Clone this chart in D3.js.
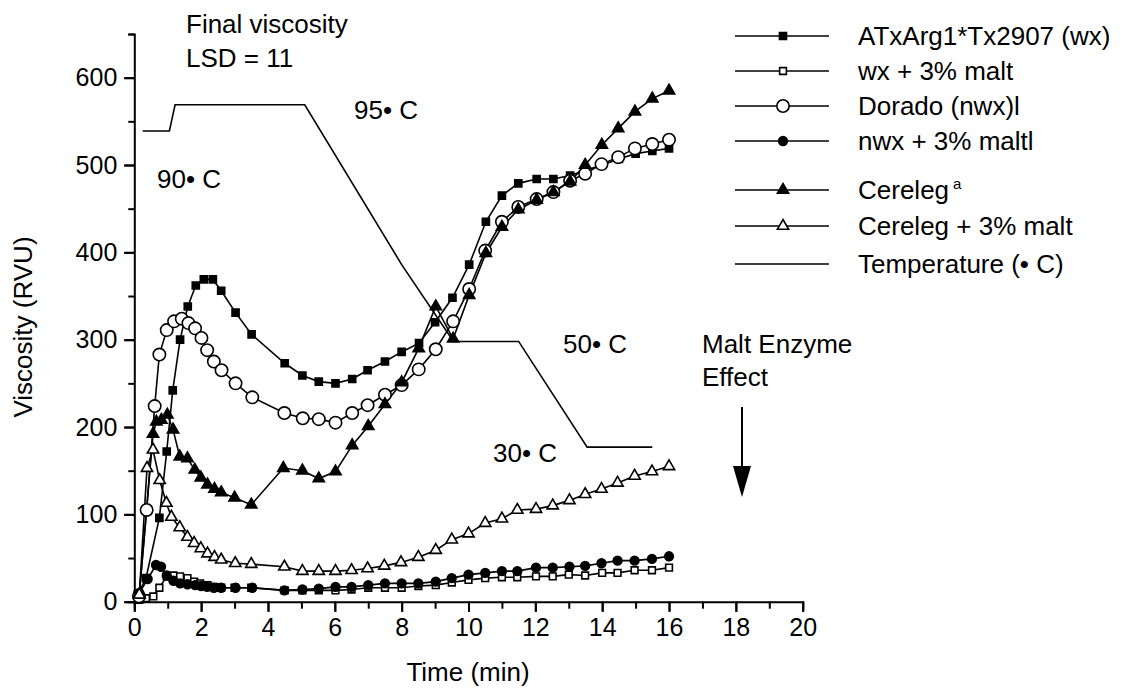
<!DOCTYPE html>
<html>
<head>
<meta charset="utf-8">
<script src="https://cdn.jsdelivr.net/npm/d3@7"></script>
<style>
  body { margin: 0; background: #fff; }
  text { font-family: "Liberation Sans", Arial, sans-serif; fill: #000; }
</style>
</head>
<body>
<svg width="1124" height="692"></svg>
<script>
// time (min), viscosity (RVU)
var wx = [[0.1,8],[0.35,27],[0.75,96],[0.97,172],[1.15,242],[1.37,300],[1.6,338],[1.84,362],[2.08,369],[2.35,369],
  [2.6,356],[3.03,331],[3.51,306],[4.5,273],[5.03,259],[5.52,252],[6.02,250],[6.52,255],[6.98,265],[7.5,275],
  [8.0,286],[8.52,296],[9.0,320],[9.52,348],[10.02,386],[10.52,435],[11.0,465],[11.49,479],[12.04,484],[12.54,484],
  [13.04,488],[13.5,494],[14.0,500],[14.5,507],[15.0,513],[15.5,516],[16.0,519]];
var wxMalt = [[0.15,2],[0.35,4],[0.57,6],[0.75,16],[0.97,29],[1.17,30],[1.37,29],[1.59,27],[1.79,23],[1.97,21],
  [2.19,19],[2.39,17],[2.6,16],[3.0,16],[3.5,16],[4.5,13],[5.03,13],[5.52,13],[6.02,13],[6.5,14],[7.0,16],
  [7.5,16],[8.0,16],[8.5,18],[9.02,19],[9.5,22],[10.0,25],[10.5,27],[11.0,28],[11.46,28],[12.02,29],[12.52,29],
  [13.0,31],[13.49,30],[14.0,33],[14.46,33],[14.97,36],[15.49,36],[16.0,39]];
var dorado = [[0.14,6],[0.37,105],[0.61,224],[0.75,283],[0.97,311],[1.19,321],[1.42,324],[1.62,319],[1.82,313],
  [2.01,302],[2.18,288],[2.38,275],[2.61,265],[3.03,250],[3.53,234],[4.49,216],[5.04,210],[5.52,209],[6.02,205],
  [6.52,216],[6.98,225],[7.5,237],[8.0,248],[8.51,266],[9.02,289],[9.54,321],[10.02,358],[10.5,402],[11.0,435],
  [11.49,452],[12.04,461],[12.54,469],[13.04,482],[13.49,490],[13.98,501],[14.48,509],[14.98,519],[15.5,524],[16.0,529]];
var nwxMalt = [[0.15,10],[0.4,26],[0.65,42],[0.8,40],[0.97,30],[1.17,24],[1.37,21],[1.59,20],[1.82,19],[2.0,18],
  [2.18,17],[2.38,16],[2.6,16],[3.03,16],[3.53,16],[4.49,13],[5.03,14],[5.52,15],[6.02,17],[6.5,17],[7.0,19],
  [7.5,21],[8.0,21],[8.5,21],[9.02,23],[9.5,27],[10.0,31],[10.5,33],[11.0,35],[11.46,35],[12.02,39],[12.52,39],
  [13.02,40],[13.49,41],[13.98,44],[14.46,47],[14.97,47],[15.49,49],[16.0,52]];
var cereleg = [[0.15,8],[0.56,192],[0.66,206],[0.81,208],[0.99,214],[1.16,197],[1.36,166],[1.59,164],[1.81,151],
  [1.99,142],[2.19,134],[2.4,129],[2.6,125],[3.0,119],[3.5,111],[4.46,153],[5.03,150],[5.52,141],[6.02,149],
  [6.52,179],[7.0,201],[7.5,226],[8.0,251],[8.51,290],[9.02,338],[9.54,301],[10.02,351],[10.52,399],[11.0,429],
  [11.49,449],[12.04,460],[12.54,469],[13.04,481],[13.49,500],[13.99,523],[14.48,542],[14.98,561],[15.5,576],[16.0,585]];
var cerelegMalt = [[0.15,8],[0.38,153],[0.56,174],[0.76,139],[0.96,113],[1.11,97],[1.36,85],[1.59,74],[1.79,67],
  [1.99,61],[2.19,55],[2.4,51],[2.6,48],[3.02,44],[3.5,43],[4.49,40],[5.03,35],[5.52,35],[6.02,35],[6.5,36],
  [6.98,38],[7.48,41],[7.98,45],[8.5,51],[9.02,59],[9.5,71],[10.0,78],[10.5,90],[11.0,95],[11.46,105],[12.02,106],
  [12.52,110],[13.02,116],[13.49,123],[13.98,129],[14.46,136],[14.97,144],[15.49,149],[16.0,155]];
// temperature profile, drawn in RVU units on the same axis
var temperature = [[0.25,539],[1.05,539],[1.22,569],[5.1,569],[8.0,386],[9.55,298],[11.5,298],[13.55,177],[15.5,177]];

var xTicks = [0,2,4,6,8,10,12,14,16,18,20];
var yTicks = [0,100,200,300,400,500,600];

var seriesNames = ["ATxArg1*Tx2907 (wx)", "wx + 3% malt", "Dorado (nwx)l", "nwx + 3% maltl", "Cereleg", "Cereleg + 3% malt", "Temperature (\u2022 C)"];

var svg = d3.select("svg");
var x = d3.scaleLinear().domain([0, 20]).range([134.3, 802.7]);
var y = d3.scaleLinear().domain([0, 650]).range([601.7, 34]);

// axes
var gx = svg.append("g").attr("transform", "translate(0,601.7)");
gx.call(d3.axisBottom(x).tickValues(d3.range(0, 21, 1)).tickSize(7).tickFormat(""));
gx.call(g => g.selectAll(".tick line").filter(d => d % 2 == 0).attr("y2", 10));
gx.append("g").call(d3.axisBottom(x).tickValues(xTicks).tickSize(10).tickPadding(7))
  .call(g => g.select(".domain").remove());
gx.selectAll("text").attr("font-size", 25).attr("font-family", "Liberation Sans, Arial, sans-serif").attr("fill", "#000");

var gy = svg.append("g").attr("transform", "translate(134.3,0)");
gy.call(d3.axisLeft(y).tickValues(d3.range(0, 651, 50)).tickSize(6).tickFormat(""));
gy.call(g => g.selectAll(".tick line").filter(d => d % 100 == 0).attr("x2", -10));
gy.append("g").call(d3.axisLeft(y).tickValues(yTicks).tickSize(10).tickPadding(7))
  .call(g => g.select(".domain").remove());
gy.selectAll("text").attr("font-size", 25).attr("font-family", "Liberation Sans, Arial, sans-serif").attr("fill", "#000");
svg.selectAll(".domain, .tick line").attr("stroke", "#000").attr("stroke-width", 2);

svg.append("text").attr("transform", "translate(32,327) rotate(-90)").attr("text-anchor", "middle")
  .attr("font-size", 26).text("Viscosity (RVU)");
svg.append("text").attr("x", 468).attr("y", 681).attr("text-anchor", "middle")
  .attr("font-size", 26).text("Time (min)");

var line = d3.line().x(d => x(d[0])).y(d => y(d[1]));

svg.append("path").datum(temperature).attr("d", line)
  .attr("fill", "none").attr("stroke", "#000").attr("stroke-width", 1.6);

var styles = [
  {data: wx, type: d3.symbolSquare, size: 50, fill: "#000"},
  {data: wxMalt, type: d3.symbolSquare, size: 45, fill: "#fff"},
  {data: dorado, type: d3.symbolCircle, size: 120, fill: "#fff"},
  {data: nwxMalt, type: d3.symbolCircle, size: 60, fill: "#000"},
  {data: cereleg, type: d3.symbolTriangle, size: 55, fill: "#000"},
  {data: cerelegMalt, type: d3.symbolTriangle, size: 55, fill: "#fff"}
];

styles.forEach(function(s) {
  svg.append("path").datum(s.data).attr("d", line)
    .attr("fill", "none").attr("stroke", "#000").attr("stroke-width", 1.6);
});
styles.forEach(function(s) {
  svg.append("g").selectAll("path").data(s.data).enter().append("path")
    .attr("transform", d => "translate(" + x(d[0]) + "," + y(d[1]) + ")")
    .attr("d", d3.symbol().type(s.type).size(s.size))
    .attr("fill", s.fill).attr("stroke", "#000").attr("stroke-width", 1.6);
});

// annotations
var notes = [["Final viscosity", 186, 33], ["LSD = 11", 186, 67], ["95\u2022 C", 354, 119], ["90\u2022 C", 157, 188],
  ["50\u2022 C", 563, 353], ["30\u2022 C", 493, 462], ["Malt Enzyme", 702, 353], ["Effect", 702, 386]];
svg.append("g").selectAll("text").data(notes).enter().append("text")
  .attr("x", d => d[1]).attr("y", d => d[2]).attr("font-size", 26).text(d => d[0]);

// arrow
svg.append("line").attr("x1", 742).attr("x2", 742).attr("y1", 407).attr("y2", 470)
  .attr("stroke", "#000").attr("stroke-width", 2);
svg.append("path").attr("d", "M733,466 L751,466 L742,497 Z").attr("fill", "#000");

// legend
var legY = [36, 71, 106, 141, 190, 226, 264];
var leg = svg.append("g");
seriesNames.forEach(function(n, i) {
  leg.append("line").attr("x1", 735).attr("x2", 829).attr("y1", legY[i]).attr("y2", legY[i])
    .attr("stroke", "#000").attr("stroke-width", 1.6);
  if (i < 6) {
    leg.append("path").attr("transform", "translate(783," + legY[i] + ")")
      .attr("d", d3.symbol().type(styles[i].type).size(styles[i].size))
      .attr("fill", styles[i].fill).attr("stroke", "#000").attr("stroke-width", 1.6);
  }
  var t = leg.append("text").attr("x", 858).attr("y", legY[i] + 9).attr("font-size", 26).text(n);
  if (i == 4) t.append("tspan").attr("dx", 4).attr("dy", -10).attr("font-size", 15).text("a");
});
</script>
</body>
</html>
